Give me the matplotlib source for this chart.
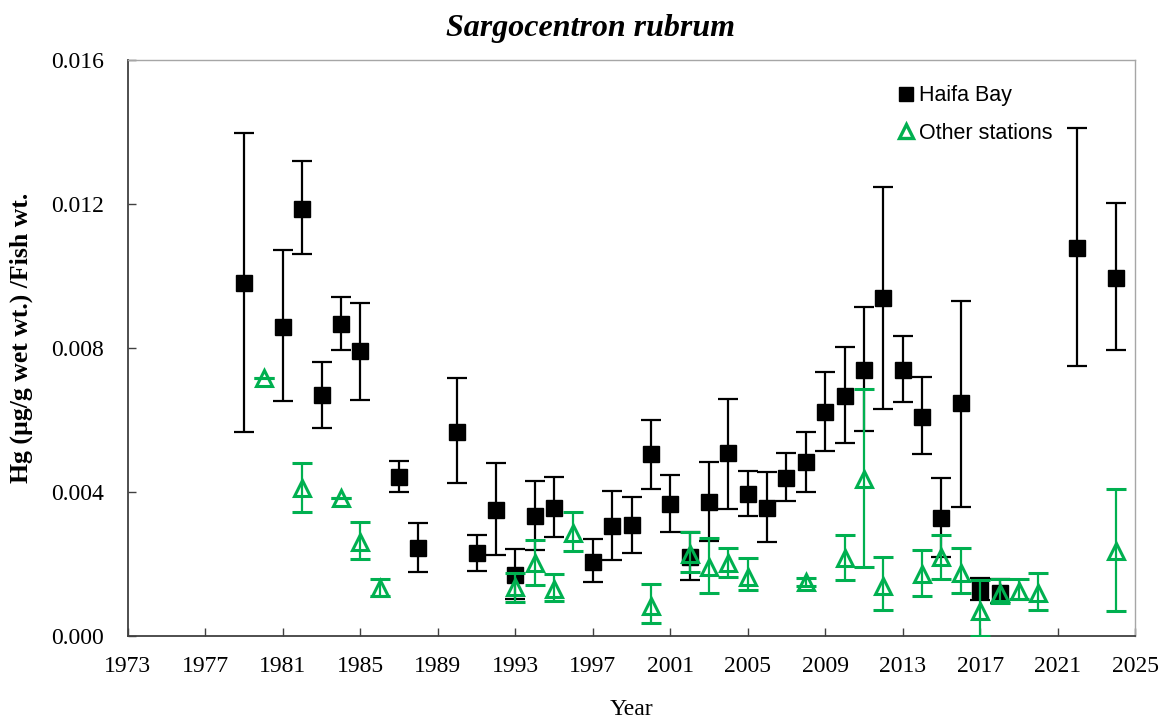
import numpy as np
import matplotlib.pyplot as plt
from matplotlib.lines import Line2D

# Haifa Bay: year, mean Hg, lower / upper error
haifa_year = [1979, 1981, 1982, 1983, 1984, 1985, 1987, 1988, 1990, 1991, 1992, 1993,
              1994, 1995, 1997, 1998, 1999, 2000, 2001, 2002, 2003, 2004, 2005, 2006,
              2007, 2008, 2009, 2010, 2011, 2012, 2013, 2014, 2015, 2016, 2017, 2018,
              2022, 2024]
haifa_hg = [0.00981, 0.00858, 0.01186, 0.00669, 0.00867, 0.00792, 0.00442, 0.00244,
            0.00567, 0.00230, 0.00350, 0.00170, 0.00333, 0.00356, 0.00206, 0.00306,
            0.00308, 0.00506, 0.00367, 0.00219, 0.00372, 0.00508, 0.00394, 0.00356,
            0.00439, 0.00483, 0.00622, 0.00667, 0.00739, 0.00939, 0.00739, 0.00608,
            0.00328, 0.00647, 0.00128, 0.00120, 0.01078, 0.00994]
haifa_lo = [0.00414, 0.00205, 0.00125, 0.00091, 0.00073, 0.00136, 0.00042, 0.00066,
            0.00142, 0.00050, 0.00125, 0.00067, 0.00094, 0.00081, 0.00056, 0.00095,
            0.00078, 0.00098, 0.00078, 0.00063, 0.00108, 0.00155, 0.00061, 0.00095,
            0.00064, 0.00083, 0.00108, 0.00131, 0.00170, 0.00308, 0.00089, 0.00102,
            0.00108, 0.00289, 0.00028, 0.00028, 0.00328, 0.00200]
haifa_hi = [0.00416, 0.00214, 0.00133, 0.00092, 0.00075, 0.00133, 0.00044, 0.00070,
            0.00150, 0.00051, 0.00130, 0.00072, 0.00097, 0.00086, 0.00064, 0.00097,
            0.00078, 0.00094, 0.00080, 0.00070, 0.00111, 0.00150, 0.00064, 0.00100,
            0.00069, 0.00084, 0.00111, 0.00136, 0.00175, 0.00308, 0.00094, 0.00111,
            0.00111, 0.00283, 0.00033, 0.00038, 0.00333, 0.00209]

# Other stations
other_year = [1980, 1982, 1984, 1985, 1986, 1993, 1994, 1995, 1996, 2000, 2002, 2003,
              2004, 2005, 2008, 2010, 2011, 2012, 2014, 2015, 2016, 2017, 2018, 2019,
              2020, 2024]
other_hg = [0.00717, 0.00411, 0.00383, 0.00261, 0.00133, 0.00136, 0.00203, 0.00131,
            0.00286, 0.00083, 0.00228, 0.00192, 0.00203, 0.00164, 0.00150, 0.00217,
            0.00436, 0.00139, 0.00172, 0.00220, 0.00175, 0.00069, 0.00120, 0.00125,
            0.00120, 0.00236]
other_lo = [0.0, 0.00067, 0.0, 0.00047, 0.00022, 0.00040, 0.00061, 0.00034,
            0.00050, 0.00047, 0.00050, 0.00072, 0.00039, 0.00036, 0.00010, 0.00061,
            0.00244, 0.00067, 0.00061, 0.00062, 0.00055, 0.00069, 0.00028, 0.00022,
            0.00048, 0.00167]
other_hi = [0.0, 0.00069, 0.0, 0.00056, 0.00025, 0.00040, 0.00064, 0.00041,
            0.00058, 0.00061, 0.00061, 0.00080, 0.00041, 0.00053, 0.00012, 0.00064,
            0.00250, 0.00080, 0.00067, 0.00060, 0.00069, 0.00087, 0.00038, 0.00033,
            0.00055, 0.00172]

green = '#00b050'

fig, ax = plt.subplots(figsize=(11.63, 7.23), dpi=100)
fig.subplots_adjust(left=0.110, right=0.976, bottom=0.120, top=0.917)

ax.errorbar(haifa_year, haifa_hg, yerr=[haifa_lo, haifa_hi], fmt='s', color='black',
            ms=12, ecolor='black', elinewidth=1.6, capsize=7, capthick=1.6, zorder=2)
ax.errorbar(other_year, other_hg, yerr=[other_lo, other_hi], fmt='^', mfc='none',
            mec=green, mew=2.2, ms=12, ecolor=green, elinewidth=1.6, capsize=7,
            capthick=1.6, zorder=3)

ax.set_xlim(1973, 2025)
ax.set_ylim(0, 0.016)
ax.set_xticks(np.arange(1973, 2026, 4))
ax.set_yticks(np.arange(0, 0.0161, 0.004))
ax.yaxis.set_major_formatter(plt.FuncFormatter(lambda v, p: f'{v:.3f}'))

serif = 'Liberation Serif'
for lab in ax.get_xticklabels() + ax.get_yticklabels():
    lab.set_fontfamily(serif)
    lab.set_fontsize(17)
ax.tick_params(direction='in', length=6, width=1, color='#404040')
ax.tick_params(axis='x', pad=14)
ax.tick_params(axis='y', pad=17)

for side in ['left', 'bottom']:
    ax.spines[side].set_color('#404040')
    ax.spines[side].set_linewidth(1.3)
for side in ['top', 'right']:
    ax.spines[side].set_color('#a6a6a6')
    ax.spines[side].set_linewidth(1.0)

ax.set_xlabel('Year', fontfamily=serif, fontsize=17, labelpad=16)
ax.set_ylabel('Hg (µg/g wet wt.) /Fish wt.', fontfamily=serif, fontsize=18.5,
              fontweight='bold')
ax.yaxis.set_label_coords(-0.094, 0.517)
ax.set_title('Sargocentron rubrum', fontfamily=serif, fontsize=23,
             fontweight='bold', fontstyle='italic', x=0.459, pad=17)

handles = [Line2D([], [], marker='s', ls='none', color='black', ms=9.5),
           Line2D([], [], marker='^', ls='none', mfc='none', mec=green, mew=2.4, ms=10)]
ax.legend(handles, ['Haifa Bay', 'Other stations'], loc='upper left',
          bbox_to_anchor=(0.747, 0.99), frameon=False, handlelength=0.6,
          handletextpad=0.3, labelspacing=0.78,
          prop={'family': 'Liberation Sans', 'size': 15.5})

plt.savefig('out.png', dpi=100)
